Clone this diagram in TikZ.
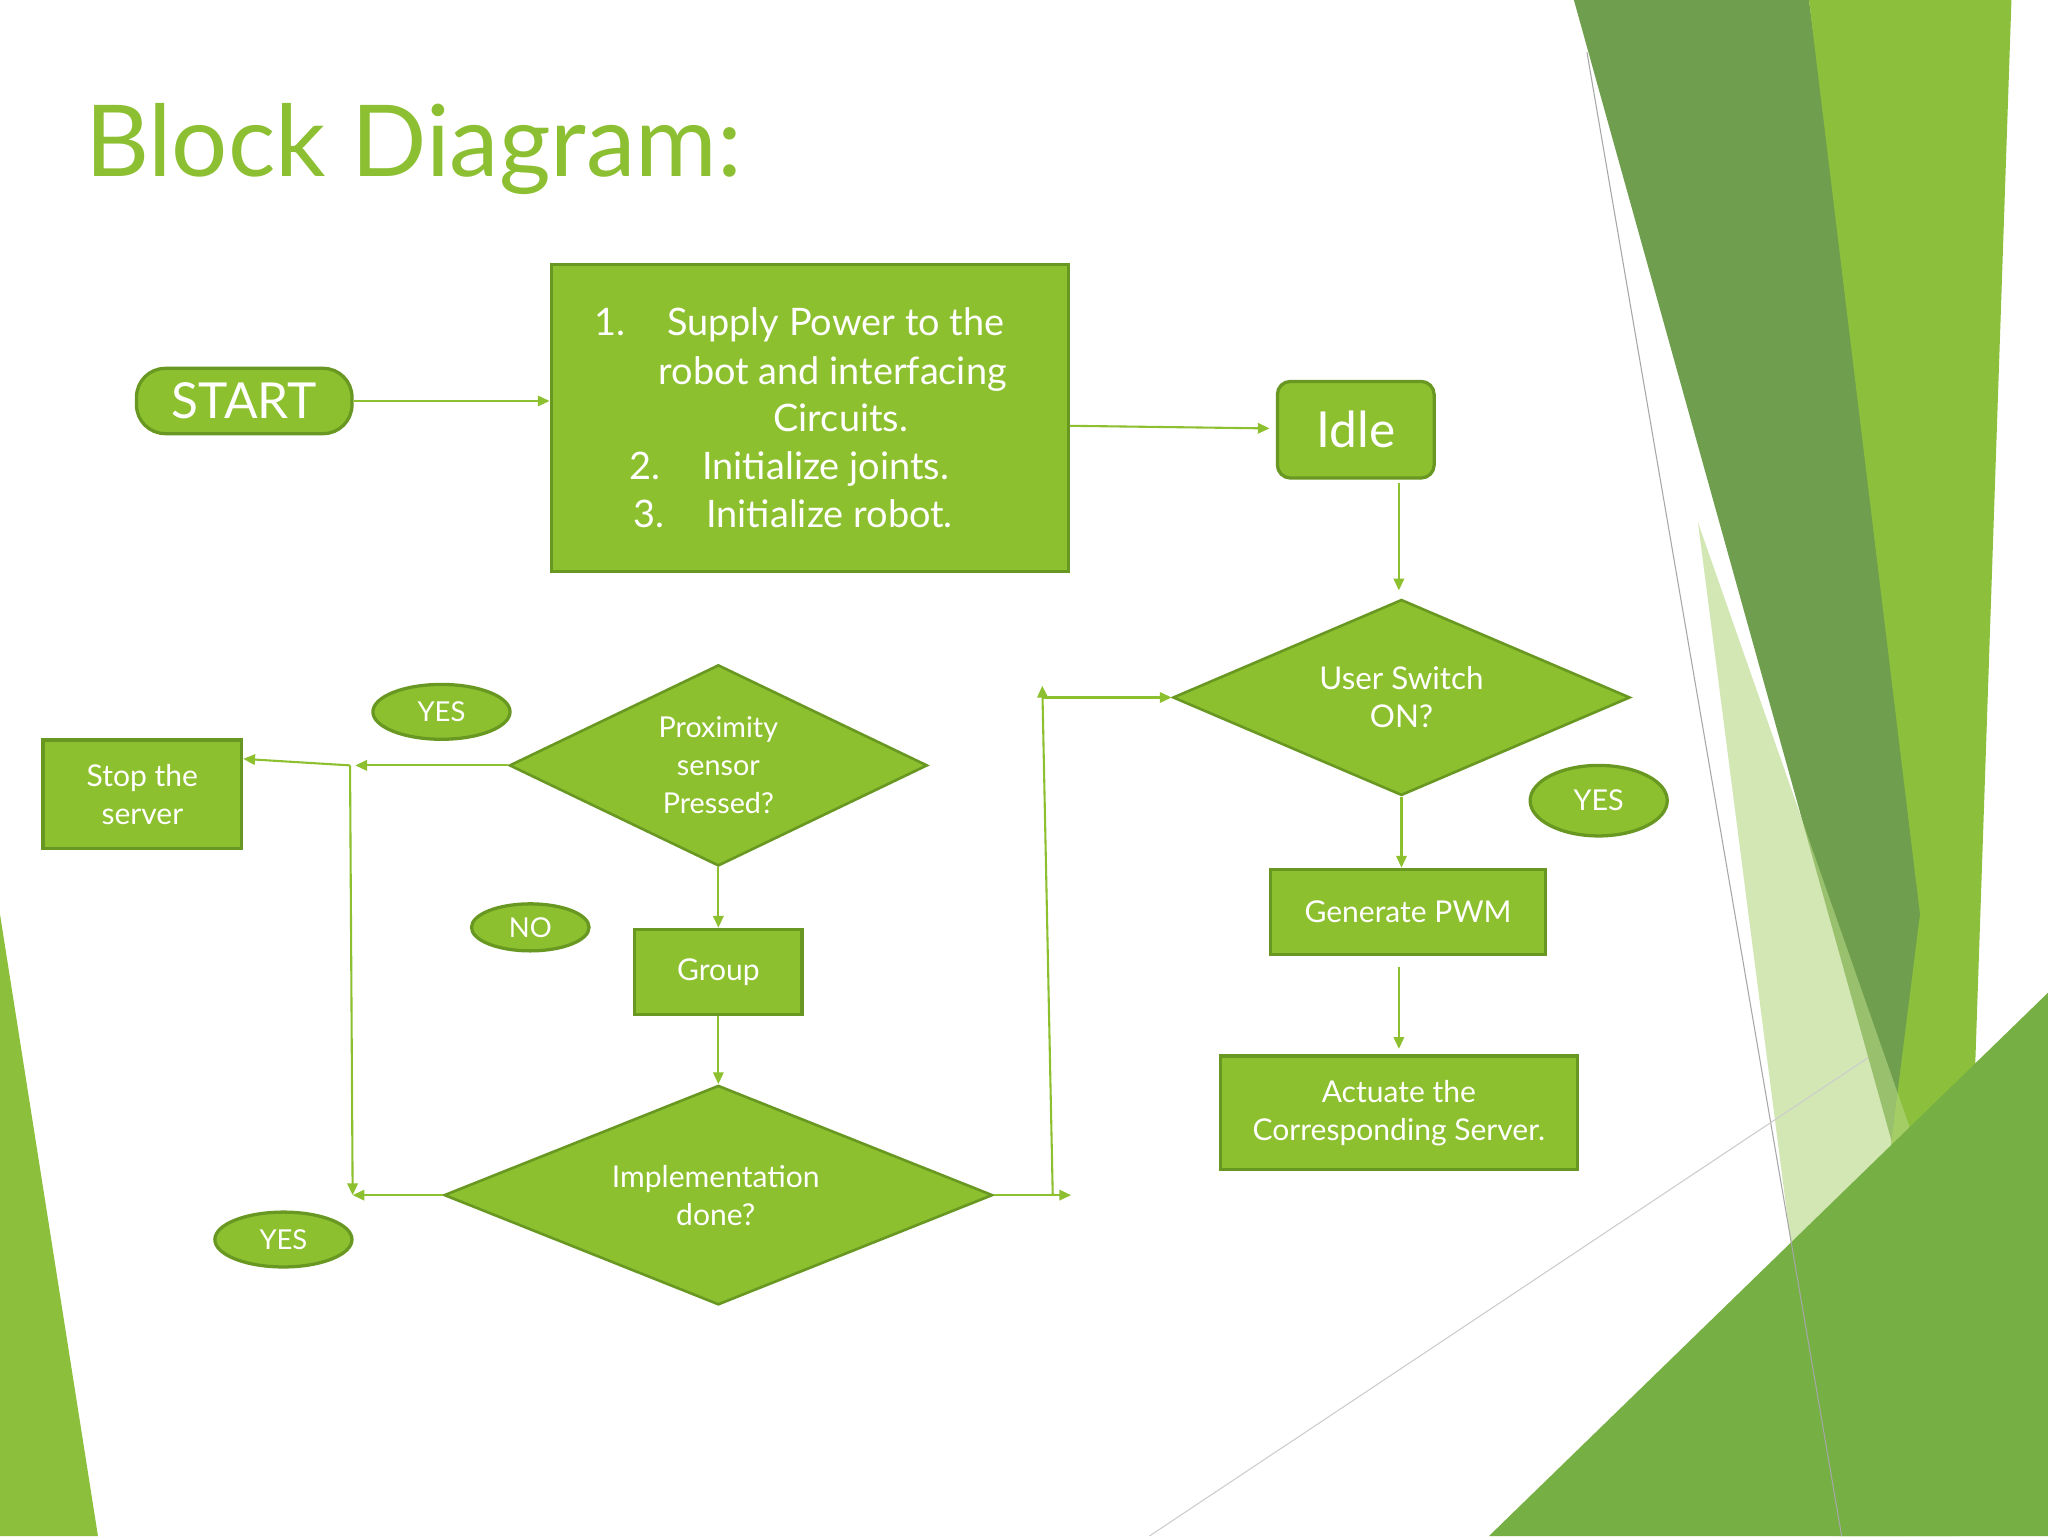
\documentclass[tikz,border=0pt]{standalone}
\usepackage{fontspec}
\setmainfont{Lato}
\usetikzlibrary{shapes.geometric,arrows.meta}
\definecolor{gf}{RGB}{141,192,47}
\definecolor{gb}{RGB}{104,152,34}
\definecolor{ttl}{RGB}{140,192,50}
\begin{document}
\begin{tikzpicture}[x=1pt,y=-1pt,
 box/.style={draw=gb,line width=2.5pt,fill=gf,text=white,align=center,inner sep=0},
 dia/.style={diamond,draw=gb,line width=2pt,fill=gf,text=white,align=center,inner sep=0},
 ell/.style={ellipse,draw=gb,line width=2.5pt,fill=gf,text=white,inner sep=0},
 ar/.style={draw=gf,line width=1.6pt,-{Triangle[length=9pt,width=8pt]}},
 ln/.style={draw=gf,line width=1.6pt}]
\useasboundingbox (0,0) rectangle (1568,1176);
\fill[white] (0,0) rectangle (1568,1176);
% background shapes
\fill[color={rgb,255:red,110;green,158;blue,78}] (1205,0)--(1385,0)--(1478,700)--(1450,880)--cycle;
\fill[color={rgb,255:red,140;green,192;blue,60}] (1385,0)--(1540,0)--(1500,1176)--(1410,1176)--(1470,700)--cycle;
\fill[color={rgb,255:red,180;green,215;blue,130},opacity=.6] (1300,400)--(1510,1000)--(1460,1176)--(1400,1176)--cycle;
\fill[color={rgb,255:red,118;green,176;blue,68}] (1140,1176)--(1568,760)--(1568,1176)--cycle;
\fill[color={rgb,255:red,140;green,192;blue,60}] (0,700)--(75,1176)--(0,1176)--cycle;
\draw[gray!70,line width=.8pt] (1215,40)--(1410,1176);
\draw[gray!40,line width=.8pt] (880,1176)--(1430,810);
% title
\node[anchor=base west,text=ttl,font=\fontsize{76}{80}\selectfont,inner sep=0] (title) at (65,135) {Block Diagram:};
% nodes
\node[box,minimum width=396,minimum height=235] (b1) at (620,320) {};
\begin{scope}[every node/.style={text=white,inner sep=0,font=\fontsize{29}{30}\selectfont,anchor=base west}]
\node (l1) at (455,257) {1.\hspace{1.1em}Supply Power to the};
\node (l2) at (504,294) {robot and interfacing};
\node (l3) at (592,330) {Circuits.};
\node (l4) at (482,367) {2.\hspace{1.1em}Initialize joints.};
\node (l5) at (485,404) {3.\hspace{1.1em}Initialize robot.};
\end{scope}
\node[box,rounded corners=22pt,minimum width=165,minimum height=50,font=\fontsize{38}{40}\selectfont] (start) at (187,307) {START};
\node[box,rounded corners=10pt,minimum width=120,minimum height=74,font=\fontsize{38}{40}\selectfont] (idle) at (1038,329) {Idle};
\node[dia,minimum width=350,minimum height=150,aspect=2.33] (usw) at (1073,534) {};
\node[text=white,align=center,font=\fontsize{24}{29}\selectfont] (uswt) at (1073,534) {User Switch\\ON?};
\node[ell,minimum width=105,minimum height=54,font=\fontsize{22}{24}\selectfont] (y1) at (1224,613) {YES};
\node[box,minimum width=211,minimum height=65,font=\fontsize{23}{26}\selectfont] (pwm) at (1078,698) {Generate PWM};
\node[box,minimum width=273,minimum height=87,font=\fontsize{23}{29}\selectfont] (act) at (1071,852) {Actuate the\\Corresponding Server.};
\node[dia,minimum width=320,minimum height=154,aspect=2.1] (prox) at (550,586) {};
\node[text=white,align=center,font=\fontsize{22}{29}\selectfont] (proxt) at (550,586) {Proximity\\sensor\\Pressed?};
\node[ell,minimum width=105,minimum height=42,font=\fontsize{21}{24}\selectfont] (y2) at (338,545) {YES};
\node[box,minimum width=152,minimum height=83,font=\fontsize{23}{29}\selectfont] (stop) at (109,608) {Stop the\\server};
\node[ell,minimum width=90,minimum height=36,font=\fontsize{21}{24}\selectfont] (no) at (406,710) {NO};
\node[box,minimum width=128,minimum height=65,font=\fontsize{23}{26}\selectfont] (grp) at (550,744) {Group};
\node[dia,minimum width=420,minimum height=168,aspect=2.5] (impl) at (550,915) {};
\node[text=white,align=center,font=\fontsize{23}{29}\selectfont] (implt) at (548,915) {Implementation\\done?};
\node[ell,minimum width=105,minimum height=42,font=\fontsize{21}{24}\selectfont] (y3) at (217,949) {YES};
% coordinates
\coordinate (jA) at (268,586);
\coordinate (jB) at (270,915);
\coordinate (jC) at (806,915);
\coordinate (jD) at (798,525);
\coordinate (jE) at (798,534);
\coordinate (iA) at (1071,370);
\coordinate (iB) at (1071,452);
\coordinate (pA) at (1071,740);
\coordinate (pB) at (1071,803);
% connectors
\draw[ar] (start.east) -- (b1.west|-start.east);
\draw[ar] (b1.east|-0,326) -- (972,328);
\draw[ar] (iA) -- (iB);
\draw[ar] (usw.south) -- (pwm.north-|usw.south);
\draw[ar] (pA) -- (pB);
\draw[ar] (prox.west) -- (272,586);
\draw[ar] (jA) -- (stop.east|-0,581);
\draw[ar] (jA) -- (jB);
\draw[ar] (impl.west) -- (jB);
\draw[ar] (prox.south) -- (grp.north);
\draw[ar] (grp.south) -- (impl.north);
\draw[ar] (impl.east) -- (820,915);
\draw[ar] (jC) -- (jD);
\draw[ar] (jE) -- (usw.west);
\end{tikzpicture}
\end{document}
